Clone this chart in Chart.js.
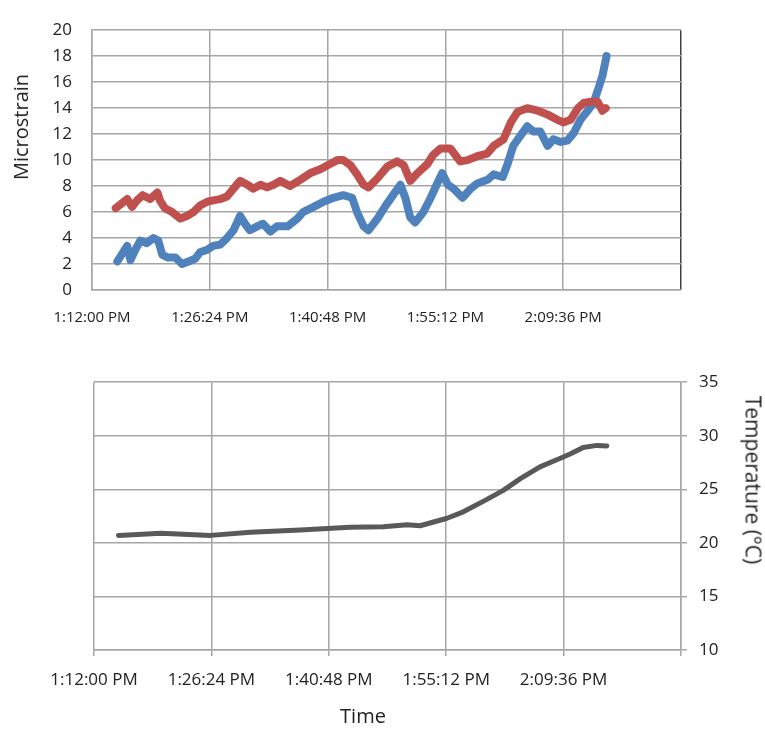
<!DOCTYPE html>
<html>
<head>
<meta charset="utf-8">
<script src="https://cdn.jsdelivr.net/npm/chart.js@4.4.1/dist/chart.umd.min.js"></script>
<style>
  body { margin:0; background:#fff; width:765px; height:730px; position:relative; overflow:hidden; font-family:"Open Sans", sans-serif; }
  canvas { position:absolute; left:0; }
  .titre { position:absolute; font-size:20px; color:#222; white-space:nowrap; line-height:1; }
</style>
</head>
<body>
<canvas id="chartStrain" width="765" height="340" style="top:0"></canvas>
<canvas id="chartTemp" width="765" height="370" style="top:360px"></canvas>
<div class="titre" id="tStrain" style="left:21px; top:127px; transform:translate(-50%,-50%) rotate(-90deg); font-size:20px">Microstrain</div>
<div class="titre" id="tTemp" style="left:753px; top:480px; transform:translate(-50%,-50%) rotate(90deg); font-size:21px">Temperature (°C)</div>
<div class="titre" id="tTime" style="left:363px; top:716px; transform:translate(-50%,-50%)">Time</div>
<script>
// minutes after 1:12:00 PM
const xTickValues = [0, 14.4, 28.8, 43.2, 57.6, 72];
const xTickLabels = ['1:12:00 PM', '1:26:24 PM', '1:40:48 PM', '1:55:12 PM', '2:09:36 PM', ''];
const strainTicks = [0, 2, 4, 6, 8, 10, 12, 14, 16, 18, 20];
const tempTicks = [10, 15, 20, 25, 30, 35];

// red strain gauge
const redTime = [2.9, 4.3, 4.9, 5.5, 6.2, 7.1, 8.0, 8.3, 8.9, 9.8, 10.8, 11.6, 12.4, 13.2, 14.1, 14.8, 15.7, 16.5, 17.3, 18.1, 19.0, 19.7, 20.6, 21.4, 22.2, 23.0, 24.2, 25.5, 26.7, 27.9, 29.1, 30.0, 30.7, 31.6, 32.4, 33.2, 33.8, 34.9, 36.1, 37.3, 38.1, 38.9, 39.8, 41.0, 41.7, 42.6, 43.8, 45.0, 45.9, 47.1, 48.3, 49.1, 50.3, 51.2, 52.0, 53.2, 54.5, 55.7, 56.9, 57.6, 58.5, 59.4, 60.1, 61.0, 61.8, 62.4, 62.8];
const redStrain = [6.3, 7.0, 6.4, 6.9, 7.3, 7.0, 7.5, 6.9, 6.3, 6.0, 5.5, 5.7, 6.0, 6.5, 6.8, 6.9, 7.0, 7.2, 7.8, 8.4, 8.1, 7.8, 8.1, 7.9, 8.1, 8.4, 8.0, 8.5, 9.0, 9.3, 9.7, 10.0, 10.0, 9.6, 8.9, 8.1, 7.9, 8.6, 9.5, 9.9, 9.6, 8.4, 9.0, 9.7, 10.4, 10.9, 10.9, 9.9, 10.0, 10.3, 10.5, 11.1, 11.6, 12.9, 13.7, 14.0, 13.8, 13.5, 13.1, 12.9, 13.1, 14.0, 14.4, 14.5, 14.5, 13.8, 14.0];

// blue strain gauge
const blueTime = [3.1, 3.8, 4.3, 4.7, 5.3, 5.9, 6.7, 7.5, 8.1, 8.6, 9.3, 10.2, 11.0, 11.8, 12.6, 13.2, 14.1, 14.8, 15.7, 16.5, 17.3, 18.1, 18.7, 19.3, 20.2, 20.9, 21.8, 22.6, 23.9, 25.1, 25.8, 27.1, 28.3, 29.5, 30.7, 31.8, 32.4, 33.2, 33.8, 34.9, 35.9, 36.8, 37.7, 38.3, 38.9, 39.5, 40.5, 41.4, 42.2, 42.8, 43.5, 44.2, 45.3, 46.3, 47.1, 48.4, 49.1, 50.2, 50.8, 51.5, 52.4, 53.2, 54.0, 54.8, 55.7, 56.4, 57.3, 58.1, 58.9, 59.7, 60.6, 61.3, 61.9, 62.4, 62.9];
const blueStrain = [2.2, 2.9, 3.4, 2.3, 3.1, 3.8, 3.6, 4.0, 3.8, 2.7, 2.5, 2.5, 2.0, 2.2, 2.4, 2.9, 3.1, 3.4, 3.5, 4.0, 4.6, 5.7, 5.1, 4.6, 4.9, 5.1, 4.5, 4.9, 4.9, 5.5, 6.0, 6.4, 6.8, 7.1, 7.3, 7.1, 6.0, 4.9, 4.6, 5.5, 6.5, 7.3, 8.1, 7.1, 5.6, 5.2, 6.0, 7.1, 8.2, 9.0, 8.1, 7.8, 7.1, 7.8, 8.2, 8.5, 8.9, 8.7, 9.7, 11.1, 11.9, 12.6, 12.2, 12.2, 11.1, 11.6, 11.4, 11.5, 12.1, 13.1, 13.8, 14.4, 15.5, 16.5, 18.0];

// temperature
const tempTime = [3.0, 8.2, 14.3, 19.2, 25.3, 31.4, 35.5, 38.4, 40.0, 43.3, 45.3, 47.8, 50.2, 52.3, 54.7, 57.2, 58.4, 60.0, 61.7, 62.9];
const temperature = [20.7, 20.9, 20.7, 21.0, 21.2, 21.45, 21.5, 21.7, 21.6, 22.3, 22.9, 23.9, 24.9, 26.0, 27.1, 27.9, 28.3, 28.9, 29.1, 29.05];

const pts = (xs, ys) => xs.map((x, i) => ({x: x, y: ys[i]}));
const gris = '#a6a6a6';
const police = {family: '"Open Sans", sans-serif'};

function axeTemps(drawTicks, padding, hauteur, taille) {
  return {
    type: 'linear', min: 0, max: 72,
    afterBuildTicks: s => { s.ticks = xTickValues.map(v => ({value: v})); },
    afterFit: s => { s.height = hauteur; },
    grid: {color: c => (c.tick && c.tick.value === 72 && !drawTicks) ? '#404040' : gris, lineWidth: 1.5, drawTicks: drawTicks, tickLength: 6},
    border: {color: gris, width: 1.5},
    ticks: {padding: padding, color: '#222', font: {...police, size: taille}, maxRotation: 0, autoSkip: false,
      callback: (v, i) => xTickLabels[i]}
  };
}

new Chart(document.getElementById('chartStrain'), {
  type: 'line',
  data: {datasets: [
    {data: pts(redTime, redStrain), borderColor: '#c0504d', borderWidth: 8},
    {data: pts(blueTime, blueStrain), borderColor: '#4f81bd', borderWidth: 8}
  ]},
  options: {
    responsive: false, animation: false,
    layout: {padding: {top: 15, right: 84, left: 0, bottom: 0}},
    elements: {point: {radius: 0}, line: {tension: 0, borderJoinStyle: 'round', borderCapStyle: 'round'}},
    plugins: {legend: {display: false}, tooltip: {enabled: false}},
    scales: {
      x: axeTemps(false, 19, 50, 15),
      y: {
        min: 0, max: 20,
        afterBuildTicks: s => { s.ticks = strainTicks.map(v => ({value: v})); },
        afterFit: s => { s.width = 92; },
        grid: {color: gris, lineWidth: 1.5, drawTicks: false},
        border: {color: gris, width: 1.5},
        ticks: {padding: 20, color: '#222', font: {...police, size: 17}}
      }
    }
  }
});

new Chart(document.getElementById('chartTemp'), {
  type: 'line',
  data: {datasets: [
    {data: pts(tempTime, temperature), borderColor: '#595959', borderWidth: 5}
  ]},
  options: {
    responsive: false, animation: false,
    layout: {padding: {top: 19, right: 0, left: 94, bottom: 0}},
    elements: {point: {radius: 0}, line: {tension: 0, borderJoinStyle: 'round', borderCapStyle: 'round'}},
    plugins: {legend: {display: false}, tooltip: {enabled: false}},
    scales: {
      x: axeTemps(true, 14, 80, 17),
      y: {
        position: 'right', min: 10, max: 35,
        afterBuildTicks: s => { s.ticks = tempTicks.map(v => ({value: v})); },
        afterFit: s => { s.width = 84; },
        grid: {color: gris, lineWidth: 1.5, drawTicks: true, tickLength: 6},
        border: {color: gris, width: 1.5},
        ticks: {padding: 12, color: '#222', font: {...police, size: 17}}
      }
    }
  }
});
</script>
</body>
</html>
